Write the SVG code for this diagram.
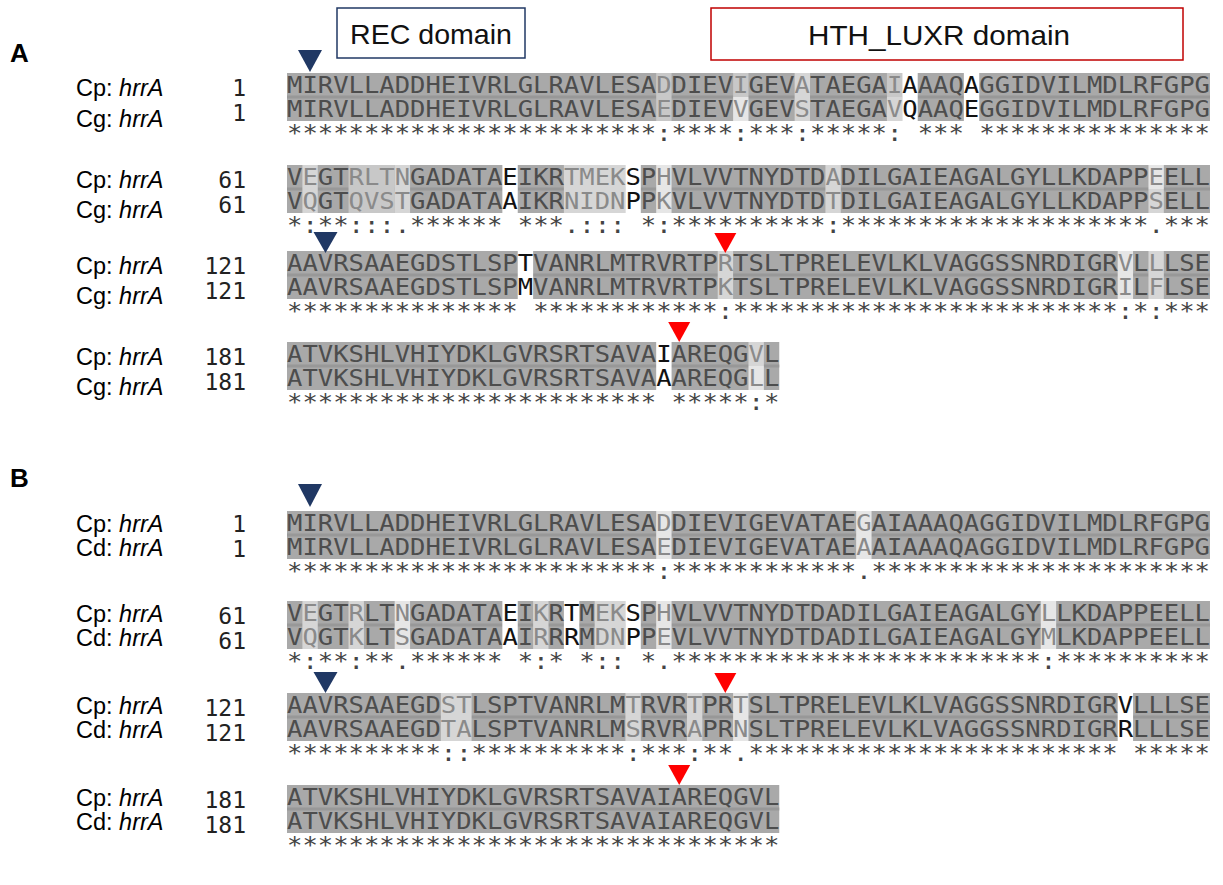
<svg xmlns="http://www.w3.org/2000/svg" width="1223" height="885" viewBox="0 0 1223 885">
<style>
.s{font-family:"DejaVu Sans Mono",monospace;font-size:23px;fill:#4d4d4d}
.g{fill:#8a8a8a}
.k{fill:#111}
.c{font-family:"DejaVu Sans Mono",monospace;font-size:23px;fill:#444;white-space:pre}
.lab{font-family:"Liberation Sans",Arial,sans-serif;font-size:23.5px;fill:#000}
.i{font-style:italic}
.num{font-family:"DejaVu Sans Mono",monospace;font-size:23px;fill:#222;text-anchor:end}
.pl{font-family:"Liberation Sans",Arial,sans-serif;font-size:26px;font-weight:bold;fill:#000}
.dom{font-family:"Liberation Sans",Arial,sans-serif;font-size:28px;fill:#111;text-anchor:middle}
.d{fill:#a9a9a9}.st{fill:#989898}.l1{fill:#c8c8c8}.l2{fill:#d6d6d6}.l3{fill:#e6e6e6}.w{fill:#fff}
.nv{fill:#203864}.rd{fill:#ff0000}
</style>
<rect width="1223" height="885" fill="#fff"/>
<text class="pl" x="10" y="62">A</text>
<text class="pl" x="10" y="487">B</text>
<g id="rec-domain"><rect x="337" y="8" width="188" height="50" fill="#fff" stroke="#203864" stroke-width="1.5"/><text class="dom" x="431" y="44" textLength="162" lengthAdjust="spacingAndGlyphs">REC domain</text></g>
<g id="hth-domain"><rect x="711" y="8" width="472" height="52" fill="#fff" stroke="#c00000" stroke-width="1.5"/><text class="dom" x="939" y="45" textLength="262" lengthAdjust="spacingAndGlyphs">HTH_LUXR domain</text></g>

<g id="blockA1">
<g transform="translate(287,73) scale(15.383,1)">
<rect class="d" x="0" y="0" width="60" height="48"/><rect class="st" x="0" y="22.5" width="60" height="3"/>
<rect class="l1" x="24" y="0" width="1" height="24"/><rect class="l1" x="29" y="0" width="1" height="24"/><rect class="l2" x="33" y="0" width="1" height="24"/><rect class="l1" x="39" y="0" width="1" height="24"/>
<rect class="l1" x="24" y="24" width="1" height="24"/><rect class="l3" x="29" y="24" width="1" height="24"/><rect class="l2" x="33" y="24" width="1" height="24"/><rect class="l2" x="39" y="24" width="1" height="24"/>
<rect class="w" x="40" y="0" width="1" height="48"/><rect class="w" x="44" y="0" width="1" height="48"/>
</g>
<text class="lab" x="76" y="96">Cp: <tspan class="i">hrrA</tspan></text>
<text class="lab" x="76" y="127">Cg: <tspan class="i">hrrA</tspan></text>
<text class="num" x="246" y="96">1</text><text class="num" x="246" y="121">1</text>
<text class="s" x="287" y="93" textLength="923" lengthAdjust="spacingAndGlyphs">MIRVLLADDHEIVRLGLRAVLESA<tspan class="g">D</tspan>DIEV<tspan class="g">I</tspan>GEV<tspan class="g">A</tspan>TAEGA<tspan class="g">I</tspan><tspan class="k">A</tspan>AAQ<tspan class="k">A</tspan>GGIDVILMDLRFGPG</text>
<text class="s" x="287" y="117" textLength="923" lengthAdjust="spacingAndGlyphs">MIRVLLADDHEIVRLGLRAVLESA<tspan class="g">E</tspan>DIEV<tspan class="g">V</tspan>GEV<tspan class="g">S</tspan>TAEGA<tspan class="g">V</tspan><tspan class="k">Q</tspan>AAQ<tspan class="k">E</tspan>GGIDVILMDLRFGPG</text>
<text class="c" xml:space="preserve" x="287" y="141" textLength="923" lengthAdjust="spacingAndGlyphs">************************:****:***:*****: *** ***************</text>
</g>

<g id="blockA2">
<g transform="translate(287,165) scale(15.383,1)">
<rect class="d" x="0" y="0" width="60" height="48"/><rect class="st" x="0" y="22.5" width="60" height="3"/>
<rect class="l2" x="1" y="0" width="1" height="48"/><rect class="l1" x="4" y="0" width="3" height="48"/><rect class="l2" x="7" y="0" width="1" height="48"/>
<rect class="w" x="14" y="0" width="1" height="48"/><rect class="l2" x="18" y="0" width="4" height="48"/><rect class="w" x="22" y="0" width="1" height="48"/>
<rect class="l3" x="24" y="0" width="1" height="48"/><rect class="l2" x="35" y="0" width="1" height="48"/>
<rect class="l3" x="56" y="0" width="1" height="24"/><rect class="l2" x="56" y="24" width="1" height="24"/>
</g>
<text class="lab" x="76" y="188">Cp: <tspan class="i">hrrA</tspan></text>
<text class="lab" x="76" y="218">Cg: <tspan class="i">hrrA</tspan></text>
<text class="num" x="246" y="188">61</text><text class="num" x="246" y="213">61</text>
<text class="s" x="287" y="185" textLength="923" lengthAdjust="spacingAndGlyphs">V<tspan class="g">E</tspan>GT<tspan class="g">RLTN</tspan>GADATA<tspan class="k">E</tspan>IKR<tspan class="g">TMEK</tspan><tspan class="k">S</tspan>P<tspan class="g">H</tspan>VLVVTNYDTD<tspan class="g">A</tspan>DILGAIEAGALGYLLKDAPP<tspan class="g">E</tspan>ELL</text>
<text class="s" x="287" y="209" textLength="923" lengthAdjust="spacingAndGlyphs">V<tspan class="g">Q</tspan>GT<tspan class="g">QVST</tspan>GADATA<tspan class="k">A</tspan>IKR<tspan class="g">NIDN</tspan><tspan class="k">P</tspan>P<tspan class="g">K</tspan>VLVVTNYDTD<tspan class="g">T</tspan>DILGAIEAGALGYLLKDAPP<tspan class="g">S</tspan>ELL</text>
<text class="c" xml:space="preserve" x="287" y="233" textLength="923" lengthAdjust="spacingAndGlyphs">*:**:::.****** ***.::: *:**********:********************.***</text>
</g>

<g id="blockA3">
<g transform="translate(287,251) scale(15.383,1)">
<rect class="d" x="0" y="0" width="60" height="48"/><rect class="st" x="0" y="22.5" width="60" height="3"/>
<rect class="w" x="15" y="0" width="1" height="48"/><rect class="l2" x="28" y="0" width="1" height="48"/><rect class="l3" x="54" y="0" width="1" height="48"/><rect class="l2" x="56" y="0" width="1" height="48"/>
</g>
<text class="lab" x="76" y="274">Cp: <tspan class="i">hrrA</tspan></text>
<text class="lab" x="76" y="304">Cg: <tspan class="i">hrrA</tspan></text>
<text class="num" x="246" y="274">121</text><text class="num" x="246" y="299">121</text>
<text class="s" x="287" y="271" textLength="923" lengthAdjust="spacingAndGlyphs">AAVRSAAEGDSTLSP<tspan class="k">T</tspan>VANRLMTRVRTP<tspan class="g">R</tspan>TSLTPRELEVLKLVAGGSSNRDIGR<tspan class="g">V</tspan>L<tspan class="g">L</tspan>LSE</text>
<text class="s" x="287" y="295" textLength="923" lengthAdjust="spacingAndGlyphs">AAVRSAAEGDSTLSP<tspan class="k">M</tspan>VANRLMTRVRTP<tspan class="g">K</tspan>TSLTPRELEVLKLVAGGSSNRDIGR<tspan class="g">I</tspan>L<tspan class="g">F</tspan>LSE</text>
<text class="c" xml:space="preserve" x="287" y="319" textLength="923" lengthAdjust="spacingAndGlyphs">*************** ************:*************************:*:***</text>
</g>

<g id="blockA4">
<g transform="translate(287,342) scale(15.383,1)">
<rect class="d" x="0" y="0" width="32" height="48"/><rect class="st" x="0" y="22.5" width="32" height="3"/>
<rect class="w" x="24" y="0" width="1" height="48"/><rect class="l2" x="30" y="0" width="1" height="24"/><rect class="l3" x="30" y="24" width="1" height="24"/>
</g>
<text class="lab" x="76" y="365">Cp: <tspan class="i">hrrA</tspan></text>
<text class="lab" x="76" y="395">Cg: <tspan class="i">hrrA</tspan></text>
<text class="num" x="246" y="365">181</text><text class="num" x="246" y="390">181</text>
<text class="s" x="287" y="362" textLength="492.3" lengthAdjust="spacingAndGlyphs">ATVKSHLVHIYDKLGVRSRTSAVA<tspan class="k">I</tspan>AREQG<tspan class="g">V</tspan>L</text>
<text class="s" x="287" y="386" textLength="492.3" lengthAdjust="spacingAndGlyphs">ATVKSHLVHIYDKLGVRSRTSAVA<tspan class="k">A</tspan>AREQG<tspan class="g">L</tspan>L</text>
<text class="c" xml:space="preserve" x="287" y="410" textLength="492.3" lengthAdjust="spacingAndGlyphs">************************ *****:*</text>
</g>

<g id="blockB1">
<g transform="translate(287,511) scale(15.383,1)">
<rect class="d" x="0" y="0" width="60" height="48"/><rect class="st" x="0" y="22.5" width="60" height="3"/>
<rect class="l3" x="24" y="0" width="1" height="48"/><rect class="l3" x="37" y="0" width="1" height="48"/>
</g>
<text class="lab" x="76" y="532">Cp: <tspan class="i">hrrA</tspan></text>
<text class="lab" x="76" y="556">Cd: <tspan class="i">hrrA</tspan></text>
<text class="num" x="246" y="532">1</text><text class="num" x="246" y="557">1</text>
<text class="s" x="287" y="531" textLength="923" lengthAdjust="spacingAndGlyphs">MIRVLLADDHEIVRLGLRAVLESA<tspan class="g">D</tspan>DIEVIGEVATAE<tspan class="g">G</tspan>AIAAAQAGGIDVILMDLRFGPG</text>
<text class="s" x="287" y="555" textLength="923" lengthAdjust="spacingAndGlyphs">MIRVLLADDHEIVRLGLRAVLESA<tspan class="g">E</tspan>DIEVIGEVATAE<tspan class="g">A</tspan>AIAAAQAGGIDVILMDLRFGPG</text>
<text class="c" xml:space="preserve" x="287" y="579" textLength="923" lengthAdjust="spacingAndGlyphs">************************:************.**********************</text>
</g>

<g id="blockB2">
<g transform="translate(287,601) scale(15.383,1)">
<rect class="d" x="0" y="0" width="60" height="48"/><rect class="st" x="0" y="22.5" width="60" height="3"/>
<rect class="l2" x="1" y="0" width="1" height="48"/><rect class="l2" x="4" y="0" width="1" height="48"/><rect class="l3" x="7" y="0" width="1" height="48"/>
<rect class="w" x="14" y="0" width="1" height="48"/><rect class="l2" x="16" y="0" width="1" height="48"/><rect class="w" x="18" y="0" width="1" height="48"/>
<rect class="l2" x="20" y="0" width="2" height="48"/><rect class="w" x="22" y="0" width="1" height="48"/><rect class="l3" x="24" y="0" width="1" height="48"/><rect class="l3" x="49" y="0" width="1" height="48"/>
</g>
<text class="lab" x="76" y="622">Cp: <tspan class="i">hrrA</tspan></text>
<text class="lab" x="76" y="646">Cd: <tspan class="i">hrrA</tspan></text>
<text class="num" x="246" y="624">61</text><text class="num" x="246" y="649">61</text>
<text class="s" x="287" y="621" textLength="923" lengthAdjust="spacingAndGlyphs">V<tspan class="g">E</tspan>GT<tspan class="g">R</tspan>LT<tspan class="g">N</tspan>GADATA<tspan class="k">E</tspan>I<tspan class="g">K</tspan>R<tspan class="k">T</tspan>M<tspan class="g">EK</tspan><tspan class="k">S</tspan>P<tspan class="g">H</tspan>VLVVTNYDTDADILGAIEAGALGY<tspan class="g">L</tspan>LKDAPPEELL</text>
<text class="s" x="287" y="645" textLength="923" lengthAdjust="spacingAndGlyphs">V<tspan class="g">Q</tspan>GT<tspan class="g">K</tspan>LT<tspan class="g">S</tspan>GADATA<tspan class="k">A</tspan>I<tspan class="g">R</tspan>R<tspan class="k">R</tspan>M<tspan class="g">DN</tspan><tspan class="k">P</tspan>P<tspan class="g">E</tspan>VLVVTNYDTDADILGAIEAGALGY<tspan class="g">M</tspan>LKDAPPEELL</text>
<text class="c" xml:space="preserve" x="287" y="669" textLength="923" lengthAdjust="spacingAndGlyphs">*:**:**.****** *:* *:: *.************************:**********</text>
</g>

<g id="blockB3">
<g transform="translate(287,693) scale(15.383,1)">
<rect class="d" x="0" y="0" width="60" height="48"/><rect class="st" x="0" y="22.5" width="60" height="3"/>
<rect class="l2" x="10" y="0" width="2" height="48"/><rect class="l2" x="22" y="0" width="1" height="48"/><rect class="l2" x="26" y="0" width="1" height="48"/><rect class="l3" x="29" y="0" width="1" height="48"/><rect class="w" x="54" y="0" width="1" height="48"/>
</g>
<text class="lab" x="76" y="714">Cp: <tspan class="i">hrrA</tspan></text>
<text class="lab" x="76" y="738">Cd: <tspan class="i">hrrA</tspan></text>
<text class="num" x="246" y="716">121</text><text class="num" x="246" y="741">121</text>
<text class="s" x="287" y="713" textLength="923" lengthAdjust="spacingAndGlyphs">AAVRSAAEGD<tspan class="g">ST</tspan>LSPTVANRLM<tspan class="g">T</tspan>RVR<tspan class="g">T</tspan>PR<tspan class="g">T</tspan>SLTPRELEVLKLVAGGSSNRDIGR<tspan class="k">V</tspan>LLLSE</text>
<text class="s" x="287" y="737" textLength="923" lengthAdjust="spacingAndGlyphs">AAVRSAAEGD<tspan class="g">TA</tspan>LSPTVANRLM<tspan class="g">S</tspan>RVR<tspan class="g">A</tspan>PR<tspan class="g">N</tspan>SLTPRELEVLKLVAGGSSNRDIGR<tspan class="k">R</tspan>LLLSE</text>
<text class="c" xml:space="preserve" x="287" y="761" textLength="923" lengthAdjust="spacingAndGlyphs">**********::**********:***:**.************************ *****</text>
</g>

<g id="blockB4">
<g transform="translate(287,785) scale(15.383,1)">
<rect class="d" x="0" y="0" width="32" height="48"/><rect class="st" x="0" y="22.5" width="32" height="3"/>
</g>
<text class="lab" x="76" y="806">Cp: <tspan class="i">hrrA</tspan></text>
<text class="lab" x="76" y="830">Cd: <tspan class="i">hrrA</tspan></text>
<text class="num" x="246" y="808">181</text><text class="num" x="246" y="833">181</text>
<text class="s" x="287" y="805" textLength="492.3" lengthAdjust="spacingAndGlyphs">ATVKSHLVHIYDKLGVRSRTSAVAIAREQGVL</text>
<text class="s" x="287" y="829" textLength="492.3" lengthAdjust="spacingAndGlyphs">ATVKSHLVHIYDKLGVRSRTSAVAIAREQGVL</text>
<text class="c" xml:space="preserve" x="287" y="853" textLength="492.3" lengthAdjust="spacingAndGlyphs">********************************</text>
</g>

<g id="markers">
<polygon class="nv" points="298,50 322,50 310,72"/>
<polygon class="nv" points="313.5,232 337.5,232 325.5,253"/>
<polygon class="rd" points="714.3,233 736.3,233 725.3,253"/>
<polygon class="rd" points="668.2,322 690.2,322 679.2,342"/>
<polygon class="nv" points="298,484 322,484 310,507"/>
<polygon class="nv" points="313.5,672 337.5,672 325.5,693"/>
<polygon class="rd" points="714.3,673 736.3,673 725.3,693"/>
<polygon class="rd" points="668.2,765 690.2,765 679.2,785"/>
</g>
</svg>
